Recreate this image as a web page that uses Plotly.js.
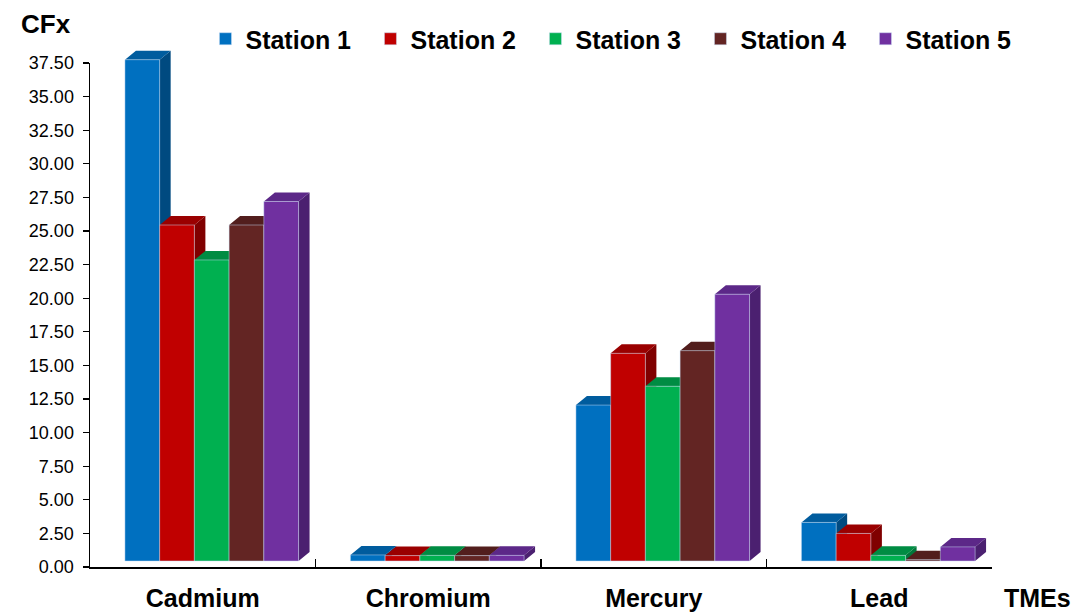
<!DOCTYPE html>
<html>
<head>
<meta charset="utf-8">
<script src="https://cdn.plot.ly/plotly-3.0.1.min.js"></script>
<style>html,body{margin:0;padding:0;background:#fff;}#chart{width:1075px;height:612px;}</style>
</head>
<body>
<div id="chart"></div>
<script>
// ---- data ----
const categories = ["Cadmium", "Chromium", "Mercury", "Lead"];
const seriesNames = ["Station 1", "Station 2", "Station 3", "Station 4", "Station 5"];
const station1 = [37.3, 0.45, 11.6, 2.87];
const station2 = [25.0, 0.40, 15.45, 2.05];
const station3 = [22.4, 0.42, 13.0, 0.42];
const station4 = [25.0, 0.40, 15.65, 0.10];
const station5 = [26.75, 0.42, 19.85, 1.05];
const yTickStep = 2.5;
const yMax = 37.5;

// ---- styles ----
const frontColors = ["#0070C0", "#C00000", "#00B050", "#632523", "#7030A0"];
const sideColors  = ["#004A80", "#800000", "#00763A", "#431918", "#4B2070"];
const topColors   = ["#005C9E", "#9A0000", "#008C43", "#521E1D", "#5C2888"];
const FONT = "Liberation Sans, Arial, sans-serif";

const allSeries = [station1, station2, station3, station4, station5];

// geometry (pixel-derived)
const mT = 30, mB = 45, H = 612;
const fullH = H - mT - mB;
const axisH = 504;
const plotW = 902;
const yDomTop = axisH / fullH;
const catPx = plotW / categories.length;
const pxPerUnit = axisH / yMax;
const bargap = 0.23;
const groupW = 1 - bargap;
const w = groupW / allSeries.length;
const dx = 11 / catPx;
const dy = 9 / pxPerUnit;
const shiftX = 9 / catPx;
const shiftY = 6 / pxPerUnit;
const hiddenYMax = fullH / pxPerUnit;

const traces = [];

traces.push({
  type: "scatter", x: categories, y: categories.map(() => 0),
  mode: "markers", marker: {opacity: 0}, showlegend: false, hoverinfo: "skip",
  xaxis: "x", yaxis: "y"
});

allSeries.forEach((vals, i) => {
  const sx = [], sy = [], tx = [], ty = [];
  vals.forEach((v, j) => {
    const xl = j - groupW / 2 + i * w;
    const xr = xl + w;
    sx.push(xr, xr + dx, xr + dx, xr, xr, null);
    sy.push(0, dy, v + dy, v, 0, null);
    tx.push(xl, xl + dx, xr + dx, xr, xl, null);
    ty.push(v, v + dy, v + dy, v, v, null);
  });
  traces.push({
    type: "scatter", x: sx, y: sy, mode: "lines", fill: "toself",
    fillcolor: sideColors[i], line: {width: 0, color: sideColors[i]},
    showlegend: false, hoverinfo: "skip", xaxis: "x2", yaxis: "y2"
  });
  traces.push({
    type: "scatter", x: tx, y: ty, mode: "lines", fill: "toself",
    fillcolor: topColors[i], line: {width: 0, color: topColors[i]},
    showlegend: false, hoverinfo: "skip", xaxis: "x2", yaxis: "y2"
  });
});

allSeries.forEach((vals, i) => {
  traces.push({
    type: "bar", name: seriesNames[i],
    x: categories.map((c, j) => j), y: vals,
    width: w, offset: -groupW / 2 + i * w,
    marker: {color: frontColors[i], line: {color: "rgba(200,222,245,0.6)", width: 0.8}},
    xaxis: "x3", yaxis: "y3"
  });
});

function hx(anchor) {
  return {type: "linear", range: [-0.5 - shiftX, categories.length - 0.5 - shiftX],
          visible: false, fixedrange: true, domain: [0, 1], anchor: anchor};
}
function hy(anchor) {
  return {type: "linear", range: [-shiftY, hiddenYMax - shiftY],
          visible: false, fixedrange: true, domain: [0, 1], anchor: anchor};
}

const layout = {
  width: 1075, height: 612,
  margin: {l: 90, r: 83, t: mT, b: mB},
  paper_bgcolor: "#fff", plot_bgcolor: "rgba(0,0,0,0)",
  font: {family: FONT, color: "#000"},
  barmode: "overlay",
  showlegend: true,
  legend: {
    orientation: "h", x: 0.128, xanchor: "left", y: (fullH - 9) / fullH, yanchor: "middle",
    font: {family: FONT, size: 25, weight: "bold", color: "#000"},
    entrywidth: 120, entrywidthmode: "pixels",
    bgcolor: "rgba(0,0,0,0)", traceorder: "normal"
  },
  xaxis: {
    type: "category", categoryorder: "array", categoryarray: categories,
    range: [-0.5, categories.length - 0.5],
    tickson: "boundaries", ticks: "inside", ticklen: 8, tickwidth: 1.3, tickcolor: "#000",
    showline: true, linecolor: "#000", linewidth: 1.5, showgrid: false, zeroline: false,
    tickfont: {family: FONT, size: 25, weight: "bold", color: "#000"},
    ticklabelstandoff: 8,
    fixedrange: true, anchor: "y"
  },
  yaxis: {
    domain: [0, yDomTop],
    range: [0, yMax], tick0: 0, dtick: yTickStep, tickformat: ".2f",
    ticks: "outside", ticklen: 6, tickwidth: 1.3, tickcolor: "#000",
    showline: true, linecolor: "#000", linewidth: 1.5, showgrid: false, zeroline: false,
    tickfont: {family: FONT, size: 18, color: "#000"},
    ticklabelstandoff: 5,
    fixedrange: true, anchor: "x"
  },
  xaxis2: hx("y2"), yaxis2: hy("x2"),
  xaxis3: hx("y3"), yaxis3: hy("x3"),
  annotations: [
    {text: "<b>CFx</b>", xref: "paper", yref: "paper", x: -0.049, y: (fullH + 6) / fullH,
     xanchor: "center", yanchor: "middle", showarrow: false,
     font: {family: FONT, size: 26, color: "#000"}},
    {text: "<b>TMEs</b>", xref: "paper", yref: "paper", x: 1.05, y: -31 / fullH,
     xanchor: "center", yanchor: "middle", showarrow: false,
     font: {family: FONT, size: 25, color: "#000"}}
  ]
};

Plotly.newPlot("chart", traces, layout, {displayModeBar: false, staticPlot: true});
</script>
</body>
</html>
